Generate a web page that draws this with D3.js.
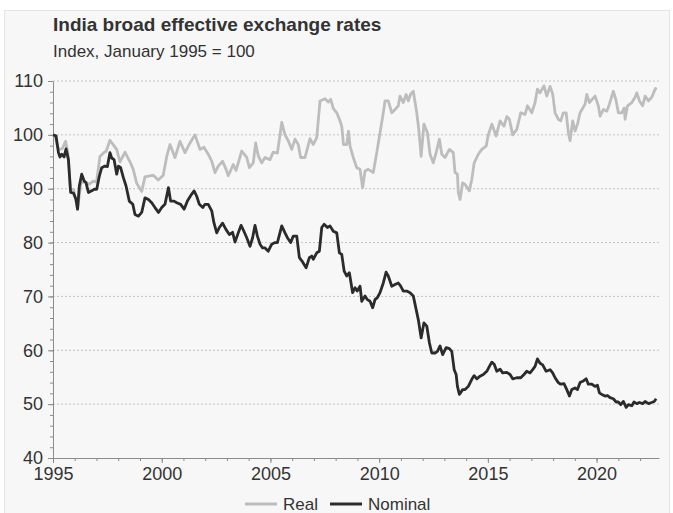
<!DOCTYPE html>
<html>
<head>
<meta charset="utf-8">
<script src="https://cdn.jsdelivr.net/npm/d3@7"></script>
<style>
  body { margin: 0; background: #ffffff; }
  text { font-family: "Liberation Sans", Arial, sans-serif; fill: #333333; }
</style>
</head>
<body>
<div id="chart"></div>
<script>
// Real broad effective exchange rate (decimal year, index)
let realYears = [1995.00,1995.10,1995.25,1995.42,1995.58,1995.68,1995.80,1995.95,1996.13,1996.28,1996.45,1996.65,1996.85,1997.00,1997.16,1997.31,1997.45,1997.62,1997.80,1997.93,1998.08,1998.31,1998.54,1998.69,1998.85,1999.08,1999.23,1999.45,1999.61,1999.84,2000.07,2000.23,2000.38,2000.61,2000.84,2001.07,2001.30,2001.53,2001.76,2001.94,2002.14,2002.30,2002.45,2002.60,2002.80,2002.96,2003.06,2003.29,2003.42,2003.68,2003.91,2004.03,2004.21,2004.32,2004.44,2004.60,2004.75,2004.98,2005.13,2005.32,2005.52,2005.67,2005.82,2005.98,2006.13,2006.28,2006.39,2006.59,2006.82,2006.97,2007.13,2007.28,2007.51,2007.66,2007.77,2007.89,2008.05,2008.20,2008.28,2008.36,2008.51,2008.59,2008.66,2008.81,2008.97,2009.12,2009.24,2009.35,2009.50,2009.73,2009.89,2010.04,2010.19,2010.27,2010.42,2010.58,2010.73,2010.88,2010.96,2011.11,2011.24,2011.34,2011.45,2011.57,2011.73,2011.83,2011.93,2012.06,2012.22,2012.34,2012.49,2012.62,2012.77,2012.88,2013.03,2013.23,2013.41,2013.49,2013.60,2013.64,2013.72,2013.84,2013.95,2014.15,2014.26,2014.37,2014.56,2014.72,2014.92,2015.02,2015.18,2015.38,2015.56,2015.74,2015.87,2015.99,2016.14,2016.33,2016.51,2016.71,2016.82,2017.02,2017.17,2017.28,2017.40,2017.58,2017.71,2017.86,2017.98,2018.09,2018.24,2018.35,2018.47,2018.60,2018.70,2018.78,2018.90,2019.01,2019.12,2019.24,2019.47,2019.55,2019.67,2019.93,2020.08,2020.16,2020.31,2020.47,2020.59,2020.77,2020.90,2021.00,2021.16,2021.27,2021.31,2021.42,2021.62,2021.77,2021.85,2021.97,2022.12,2022.23,2022.39,2022.54,2022.65,2022.74];
let realValues = [100,99.6,97.3,97.4,98.8,96.7,90.0,89.8,86.2,91.0,91.4,90.8,91.4,91.2,96.0,96.6,97.0,99.0,98.0,97.3,95.0,96.8,95.0,93.6,91.0,89.5,92.2,92.4,92.5,91.6,92.5,96.0,98.2,95.8,98.8,96.7,98.5,100.0,97.3,97.7,96.4,95.1,93.0,94.2,95.1,93.6,92.4,94.5,93.4,97.0,95.8,93.9,94.8,98.5,96.1,94.8,95.8,95.4,96.8,96.6,102.3,100.0,98.9,97.3,99.2,98.2,95.8,95.8,99.3,98.2,99.5,106.3,106.7,106.1,106.6,104.9,104.1,102.6,101.6,98.2,98.2,100.7,97.9,95.8,93.9,93.6,90.2,93.3,93.6,93.0,96.7,100.4,104.1,106.3,106.3,104.1,104.7,105.4,107.2,106.0,107.5,106.3,107.6,108.1,104.1,100.7,96.0,102.0,100.4,96.4,94.8,96.7,99.2,96.4,95.8,97.3,96.7,93.0,92.7,89.3,88.0,91.1,90.8,89.6,91.7,94.8,96.4,97.3,97.9,100.0,102.0,99.8,102.6,101.6,103.4,102.9,100.0,101.0,104.1,103.8,105.4,104.1,106.0,108.5,107.8,109.1,107.2,109.0,107.6,104.1,102.9,102.6,104.1,104.1,100.4,98.9,102.6,100.7,102.0,104.1,105.7,107.5,106.0,107.2,105.4,103.5,104.7,104.4,105.7,108.1,106.3,104.1,104.1,105.0,102.9,105.4,106.0,107.0,107.8,106.3,105.4,107.2,106.3,107.0,108.1,108.8];

// Nominal broad effective exchange rate (decimal year, index)
let nominalYears = [1995.00,1995.14,1995.25,1995.32,1995.40,1995.51,1995.60,1995.71,1995.81,1995.94,1996.06,1996.13,1996.21,1996.32,1996.44,1996.52,1996.63,1996.78,1996.90,1997.01,1997.13,1997.24,1997.39,1997.50,1997.62,1997.70,1997.81,1997.93,1998.01,1998.11,1998.24,1998.36,1998.51,1998.67,1998.77,1998.93,1999.08,1999.23,1999.39,1999.54,1999.69,1999.85,2000.00,2000.15,2000.31,2000.41,2000.57,2000.69,2000.87,2001.03,2001.18,2001.38,2001.49,2001.61,2001.73,2001.89,2001.99,2002.14,2002.30,2002.40,2002.53,2002.65,2002.80,2002.96,2003.11,2003.26,2003.37,2003.52,2003.65,2003.78,2003.91,2004.06,2004.18,2004.29,2004.40,2004.52,2004.64,2004.75,2004.90,2005.06,2005.21,2005.32,2005.52,2005.67,2005.78,2005.93,2006.05,2006.21,2006.33,2006.48,2006.64,2006.79,2006.90,2006.97,2007.13,2007.25,2007.36,2007.47,2007.62,2007.74,2007.89,2008.05,2008.17,2008.28,2008.39,2008.51,2008.63,2008.78,2008.89,2008.99,2009.12,2009.20,2009.35,2009.46,2009.58,2009.70,2009.81,2009.92,2010.04,2010.19,2010.32,2010.42,2010.58,2010.73,2010.88,2010.99,2011.11,2011.27,2011.42,2011.57,2011.70,2011.80,2011.93,2012.06,2012.19,2012.31,2012.42,2012.57,2012.68,2012.80,2012.92,2013.08,2013.23,2013.34,2013.45,2013.54,2013.60,2013.69,2013.84,2013.95,2014.10,2014.26,2014.37,2014.49,2014.64,2014.79,2014.95,2015.07,2015.18,2015.29,2015.41,2015.56,2015.68,2015.87,2016.02,2016.14,2016.33,2016.51,2016.66,2016.79,2016.94,2017.06,2017.17,2017.28,2017.40,2017.52,2017.68,2017.86,2017.98,2018.09,2018.24,2018.35,2018.50,2018.63,2018.75,2018.86,2019.01,2019.12,2019.24,2019.39,2019.52,2019.62,2019.78,2019.93,2020.04,2020.13,2020.24,2020.39,2020.50,2020.62,2020.77,2020.90,2021.00,2021.11,2021.23,2021.36,2021.46,2021.62,2021.72,2021.85,2021.97,2022.12,2022.23,2022.39,2022.53,2022.65,2022.74];
let nominalValues = [100,99.8,96.7,95.9,96.4,95.9,97.4,95.4,89.3,89.2,88.0,86.2,90.5,92.7,91.4,91.1,89.3,89.6,89.9,89.9,92.3,93.9,94.2,94.1,96.7,95.7,95.4,92.7,94.2,93.9,92.0,90.5,87.7,87.1,85.2,84.9,85.6,88.3,88.0,87.4,86.5,85.6,86.5,87.1,90.2,87.7,87.7,87.4,87.1,86.2,87.7,89.0,89.6,88.6,87.1,86.5,87.1,87.1,85.9,83.7,81.8,82.8,83.6,82.4,81.5,81.9,80.1,81.8,83.2,82.1,80.9,79.3,80.9,83.2,81.2,79.7,79.0,79.0,78.4,79.7,80.0,80.0,83.1,81.8,80.9,80.0,81.2,81.2,77.2,76.4,75.3,77.2,77.5,76.9,78.1,78.4,82.8,83.4,82.8,83.1,82.1,81.8,78.1,77.8,74.7,73.8,74.4,70.7,71.6,71.0,71.9,69.1,70.1,69.4,69.1,67.9,69.4,69.8,70.7,72.5,74.5,73.8,71.9,72.2,72.5,71.9,71.0,71.0,70.7,70.1,67.6,65.7,62.3,65.1,64.5,61.4,59.5,59.5,59.8,60.8,59.2,60.5,60.3,59.8,56.4,55.5,53.3,51.8,52.7,52.7,53.3,54.6,55.3,54.7,55.2,55.5,56.1,57.0,57.8,57.4,56.1,56.5,55.8,55.9,55.5,54.7,54.9,54.9,55.5,56.1,55.8,56.4,57.0,58.4,57.6,57.3,56.1,56.4,55.8,54.9,54.0,53.7,53.8,52.7,51.5,52.7,53.0,52.7,54.0,54.3,54.7,53.7,53.7,53.3,53.5,52.1,51.8,51.5,51.6,51.2,51.0,50.4,50.4,49.9,50.5,49.4,49.9,49.7,50.4,50.1,50.3,50.1,50.5,50.1,50.3,50.5,51.0];

let xMajorTicks = [1995, 2000, 2005, 2010, 2015, 2020];
let xMinorTicks = d3.range(1995, 2023, 1);
let yMajorTicks = [40, 50, 60, 70, 80, 90, 100, 110];
let yMinorTicks = d3.range(40, 111, 2);
let seriesNames = ["Real", "Nominal"];
let seriesColors = ["#bdbdbd", "#2b2b2b"];

let W = 673, H = 513;
let margin = {top: 81, right: 14, bottom: 55, left: 53},
    width = W - margin.left - margin.right,
    height = H - margin.top - margin.bottom;

let svg = d3.select("#chart")
  .append("svg")
    .attr("width", W)
    .attr("height", H);

// panel background
svg.append("rect")
  .attr("x", 4.5).attr("y", 10.5)
  .attr("width", 665).attr("height", 510)
  .attr("fill", "#f7f7f7")
  .attr("stroke", "#e4e4e4");

// titles
svg.append("text")
  .attr("x", 53).attr("y", 31)
  .style("font-size", "19px").style("font-weight", "bold")
  .text("India broad effective exchange rates");
svg.append("text")
  .attr("x", 53).attr("y", 57)
  .style("font-size", "17px")
  .text("Index, January 1995 = 100");

let g = svg.append("g")
  .attr("transform", "translate(" + margin.left + "," + margin.top + ")");

let x = d3.scaleLinear().domain([1995, 2022.87]).range([0, width]);
let y = d3.scaleLinear().domain([40, 110]).range([height, 0]);

// dotted gridlines
g.append("g")
  .selectAll("line")
  .data(yMajorTicks.filter(d => d > 40))
  .join("line")
    .attr("x1", 0).attr("x2", width)
    .attr("y1", d => y(d)).attr("y2", d => y(d))
    .attr("stroke", "#c4c4c4")
    .attr("stroke-width", 1)
    .attr("stroke-dasharray", "2,2");

// minor ticks
g.append("g")
  .call(d3.axisLeft(y).tickValues(yMinorTicks).tickSize(3).tickSizeOuter(0).tickFormat(""))
  .call(a => a.select(".domain").remove());
g.append("g")
  .attr("transform", "translate(0," + height + ")")
  .call(d3.axisBottom(x).tickValues(xMinorTicks).tickSize(3).tickSizeOuter(0).tickFormat(""))
  .call(a => a.select(".domain").remove());

// Y axis
let yAxis = g.append("g")
  .call(d3.axisLeft(y).tickValues(yMajorTicks).tickSize(5).tickPadding(5).tickSizeOuter(0));
yAxis.selectAll("text").style("font-size", "18px").attr("fill", "#333");

// X axis
let xAxis = g.append("g")
  .attr("transform", "translate(0," + height + ")")
  .call(d3.axisBottom(x).tickValues(xMajorTicks).tickFormat(d3.format("d")).tickSize(5).tickPadding(4).tickSizeOuter(0));
xAxis.selectAll("text").style("font-size", "18px").attr("fill", "#333");

g.selectAll(".domain, .tick line").attr("stroke", "#8c8c8c");

// lines
let line = d3.line()
  .x(d => x(d[0]))
  .y(d => y(d[1]));

let realData = d3.zip(realYears, realValues);
let nominalData = d3.zip(nominalYears, nominalValues);

g.append("path")
  .datum(realData)
  .attr("fill", "none")
  .attr("stroke", seriesColors[0])
  .attr("stroke-width", 2.8)
  .attr("stroke-linejoin", "round")
  .attr("d", line);

g.append("path")
  .datum(nominalData)
  .attr("fill", "none")
  .attr("stroke", seriesColors[1])
  .attr("stroke-width", 2.8)
  .attr("stroke-linejoin", "round")
  .attr("d", line);

// legend
let legendX = [245, 330];
let legend = svg.append("g");
seriesNames.forEach(function(name, i) {
  legend.append("line")
    .attr("x1", legendX[i]).attr("x2", legendX[i] + 32)
    .attr("y1", 504).attr("y2", 504)
    .attr("stroke", seriesColors[i])
    .attr("stroke-width", 3);
  legend.append("text")
    .attr("x", legendX[i] + 38).attr("y", 510)
    .style("font-size", "17px")
    .text(name);
});
</script>
</body>
</html>
